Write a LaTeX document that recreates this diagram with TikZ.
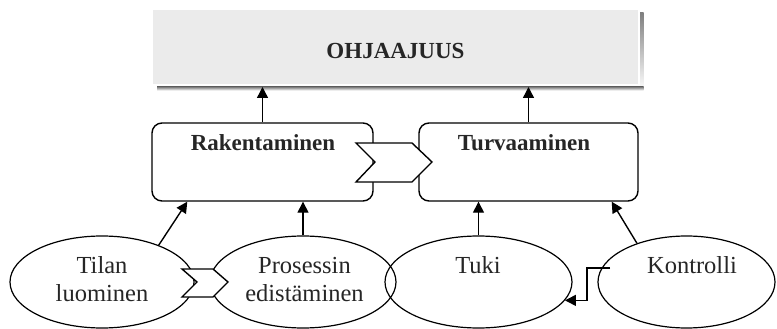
\documentclass[tikz,border=0pt]{standalone}
\usepackage{fontspec}
\setmainfont{Liberation Serif}
\usetikzlibrary{arrows.meta,shapes.geometric}
\definecolor{ink}{HTML}{262626}
\definecolor{panel}{HTML}{EBEBEB}
\definecolor{shade}{HTML}{8C8C8C}
\begin{document}
\begin{tikzpicture}[x=1pt,y=-1pt,
  arr/.style={line width=1.4pt,-{Triangle[length=11pt,width=11pt]}},
  phase/.style={draw,line width=1.4pt,rounded corners=10pt,minimum height=78pt,inner sep=0pt},
  task/.style={draw,ellipse,line width=1.2pt,minimum height=92pt,inner sep=0pt},
  chevron/.style={draw,fill=white,line width=1.4pt,line join=miter},
  lbl/.style={text=ink,font=\fontsize{24.5}{28}\selectfont,align=center,anchor=base},
  blbl/.style={lbl,font=\fontsize{23}{26}\selectfont\bfseries}]

\useasboundingbox (0,0) rectangle (777,329);

% top panel with its drop shadow bands (right and bottom)
\node[fill=panel,minimum width=485pt,minimum height=74pt,inner sep=0pt] (ohj) at (395.5,47) {};
\fill[shade] (640,13) rectangle (643.5,90.5);
\fill[shade] (157,87) rectangle (643.5,90.5);
\node[blbl] (ohjlbl) at (395.5,59) {OHJAAJUUS};
\coordinate (ohjedge) at (395.5,87);

% the two phases
\node[phase,minimum width=221pt] (rak) at (262.5,162) {};
\node[phase,minimum width=219pt] (turv) at (528.5,162) {};
\node[blbl] (raklbl) at (263,150) {Rakentaminen};
\node[blbl] (turvlbl) at (524,150) {Turvaaminen};

% the four tasks (multi-line labels sit on the baseline of their last line)
\node[task,minimum width=184pt] (tilan) at (102,282) {};
\node[task,minimum width=186pt] (pros) at (303,282) {};
\node[task,minimum width=187pt] (tuki) at (478.5,282) {};
\node[task,minimum width=177pt] (kontr) at (686.5,282) {};
\node[lbl] (tilanlbl) at (102,301) {Tilan\\luominen};
\node[lbl] (proslbl) at (304.5,301) {Prosessin\\edistäminen};
\node[lbl] (tukilbl) at (478,273) {Tuki};
\node[lbl] (kontrlbl) at (692,273) {Kontrolli};

% chevrons marking the sequence
\draw[chevron] (356,143) -- (375,162) -- (356,182) -- (412,182) -- (432,162) -- (412,143) -- cycle;
\draw[chevron] (182,269) -- (197,282) -- (182,297) -- (213,297) -- (228,282) -- (213,269) -- cycle;

% arrows
\draw[arr] (rak.north) -- (rak.north |- ohjedge);
\draw[arr] (turv.north) -- (turv.north |- ohjedge);
\draw[arr] (tilan.33.5) -- ([xshift=36pt]rak.south west);
\draw[arr] (pros.north) -- (pros.north |- rak.south);
\draw[arr] (tuki.north) -- (tuki.north |- turv.south);
\draw[arr] (kontr.142.7) -- ([xshift=-27pt]turv.south east);
\coordinate (ktail) at (610,268);
\draw[arr] (ktail) -- ++(-23,0) |- (tuki.-12);
\end{tikzpicture}
\end{document}
